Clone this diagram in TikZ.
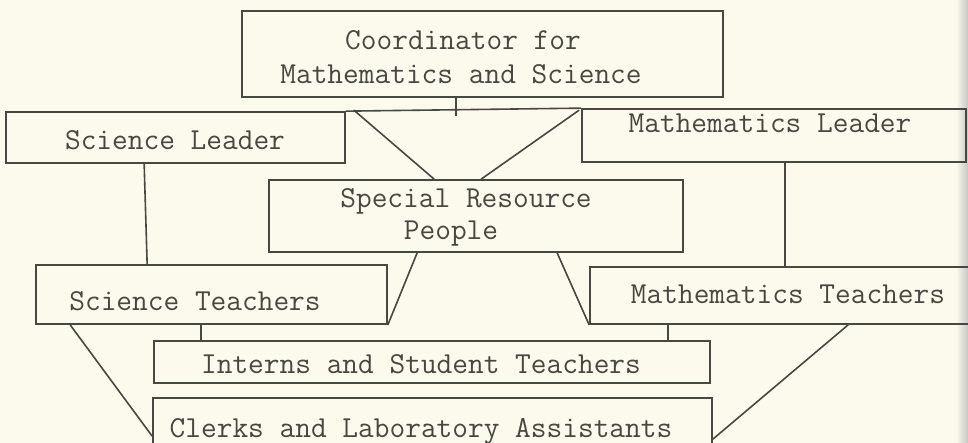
\documentclass[tikz,border=0pt]{standalone}
\usepackage{fontspec}
\usetikzlibrary{calc}
\definecolor{paper}{RGB}{251,250,236}
\definecolor{ink}{RGB}{72,72,66}
\begin{document}
\begin{tikzpicture}[x=1pt,y=-1pt,
  box/.style={draw=ink, line width=1.7pt, rectangle, inner sep=0pt},
  lbl/.style={text=ink, font=\ttfamily\fontsize{30.5}{33}\selectfont, inner sep=0pt, anchor=base},
  conn/.style={draw=ink, line width=1.6pt}]
\useasboundingbox (0,0) rectangle (968,443);
\fill[paper] (0,0) rectangle (968,443);
\shade[left color=paper, right color=black!22] (956,0) rectangle (968,443);
\clip (0,0) rectangle (968,443);
% boxes
\node[box, minimum width=481pt, minimum height=86pt] (coord) at (482.5,54) {};
\node[box, minimum width=339pt, minimum height=51pt] (sl) at (175.5,137.5) {};
\node[box, minimum width=384pt, minimum height=53pt] (ml) at (774,135.5) {};
\node[box, minimum width=414pt, minimum height=72pt] (sr) at (476,216) {};
\node[box, minimum width=351pt, minimum height=59pt] (st) at (211.5,294.5) {};
\node[box, minimum width=400pt, minimum height=57pt] (mt) at (790,295.5) {};
\node[box, minimum width=556pt, minimum height=42pt] (in) at (432,362) {};
\node[box, minimum width=559pt, minimum height=72pt] (cl) at (432.5,434) {};
% labels
\node[lbl] (coordA) at (463,50) {Coordinator for};
\node[lbl] (coordB) at (461,84) {Mathematics and Science};
\node[lbl] (slt) at (175,150) {Science Leader};
\node[lbl] (mlt) at (770,133) {Mathematics Leader};
\node[lbl] (srA) at (466,208) {Special Resource};
\node[lbl] (srB) at (451,240) {People};
\node[lbl] (stt) at (195,310) {Science Teachers};
\node[lbl] (mtt) at (788,303) {Mathematics Teachers};
\node[lbl] (int) at (421,373) {Interns and Student Teachers};
\node[lbl] (clt) at (421,437) {Clerks and Laboratory Assistants};
% connectors
\coordinate (hub) at (456,111);
\coordinate (hubend) at (456,116);
\draw[conn] (sl.north east) -- (ml.north west);
\draw[conn] (coord.south -| hub) -- (hubend);
\draw[conn] ($(sl.north east)+(8,-1)$) -- ($(sr.north west)+(166,0)$);
\draw[conn] ($(ml.north west)+(-2,2)$) -- ($(sr.north west)+(213,0)$);
\draw[conn] ($(sl.south west)+(139,0)$) -- ($(st.north west)+(112,0)$);
\draw[conn] ($(ml.south west)+(204,0)$) -- ($(mt.north west)+(196,0)$);
\draw[conn] ($(sr.south west)+(149,0)$) -- (st.south east);
\draw[conn] ($(sr.south west)+(289,0)$) -- (mt.south west);
\draw[conn] ($(st.south west)+(166,0)$) -- ($(in.north west)+(48,0)$);
\draw[conn] ($(mt.south west)+(79,0)$) -- ($(in.north west)+(515,0)$);
\draw[conn] ($(st.south west)+(35,0)$) -- ($(cl.north west)+(0,39)$);
\draw[conn] ($(mt.south west)+(259,0)$) -- ($(cl.north east)+(0,42)$);
\end{tikzpicture}
\end{document}
